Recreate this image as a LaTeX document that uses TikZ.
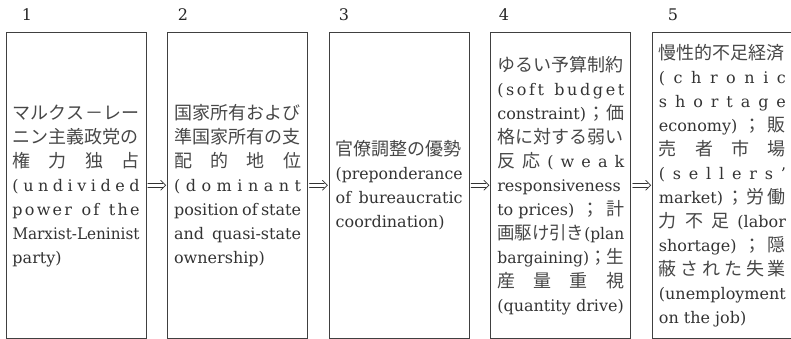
\documentclass[tikz,border=0pt]{standalone}
\usepackage{fontspec}
\usepackage{graphicx}
\setmainfont{DejaVu Serif}
\newfontfamily\cjk{Noto Sans CJK JP}
\newlength\tw \setlength\tw{127pt}
\newlength\lnw
\newsavebox\lnbox
\newcommand\J[1]{{\cjk\fontsize{18pt}{24pt}\selectfont\color{black!72}#1}}
\newcommand\jstrut{\vrule width 0pt height 18pt depth 6pt}
\newcommand\jl[1]{%
  \sbox\lnbox{#1}%
  \setlength\lnw{\wd\lnbox}%
  \ifdim\lnw>\tw
    \pgfmathsetmacro\lnsc{\tw/\lnw}%
    \hbox to\tw{\jstrut\scalebox{\lnsc}[1]{\usebox\lnbox}}%
  \else
    \hbox to\tw{\jstrut#1}%
  \fi}
\newcommand\stk[1]{\vbox{\baselineskip=24pt\lineskip=0pt\lineskiplimit=-100pt #1}}
\tikzset{
  box/.style={draw=black!75, line width=0.8pt, minimum width=140pt,
    minimum height=305.5pt, inner sep=0pt, text=black!80,
    font=\fontsize{16pt}{24pt}\selectfont},
  num/.style={font=\fontsize{16pt}{16pt}\selectfont, text=black!85, inner sep=0pt},
  imp/.style={line width=0.7pt, draw=black!80, line cap=round, line join=miter}
}
\begin{document}
\begin{tikzpicture}[x=1pt,y=-1pt]
\useasboundingbox (0,0) rectangle (791,339);

\node[num] (n1) at (27,15) {1};
\node[num] (n2) at (183,15) {2};
\node[num] (n3) at (344,15) {3};
\node[num] (n4) at (504,15) {4};
\node[num] (n5) at (673,15) {5};

\node[box] (b1) at (76,185.25) {\stk{%
  \jl{\J{マ}\hfill\J{ル}\hfill\J{ク}\hfill\J{ス}\hfill\J{－}\hfill\J{レ}\hfill\J{ー}}
  \jl{\J{ニン主義政党の}}
  \jl{\J{権}\hfill\J{力}\hfill\J{独}\hfill\J{占}}
  \jl{(\hfill u\hfill n\hfill d\hfill i\hfill v\hfill i\hfill d\hfill e\hfill d}
  \jl{p\hfill o\hfill w\hfill e\hfill r\hfill\ \hfill o\hfill f\hfill\ \hfill t\hfill h\hfill e}
  \jl{Marxist-Leninist}
  \jl{party)\hfil}}};

\node[box] (b2) at (237.6,185.25) {\stk{%
  \jl{\J{国家所有および}}
  \jl{\J{準国家所有の支}}
  \jl{\J{配}\hfill\J{的}\hfill\J{地}\hfill\J{位}}
  \jl{(\hfill d\hfill o\hfill m\hfill i\hfill n\hfill a\hfill n\hfill t}
  \jl{position\hfill of\hfill state}
  \jl{and\hfill quasi-state}
  \jl{ownership)\hfil}}};

\node[box] (b3) at (399.2,185.25) {\stk{%
  \jl{\J{官僚調整の優勢}}
  \jl{(preponderance\hfil}
  \jl{of\hfill bureaucratic}
  \jl{coordination)\hfil}}};

\node[box] (b4) at (560.8,185.25) {\stk{%
  \jl{\J{ゆるい予算制約}}
  \jl{(\hfill s\hfill o\hfill f\hfill t\hfill\ \hfill b\hfill u\hfill d\hfill g\hfill e\hfill t}
  \jl{constraint)\hfill\J{；}\hfill\J{価}}
  \jl{\J{格に対する弱い}}
  \jl{\J{反}\hfill\J{応}\hfill(\hfill w\hfill e\hfill a\hfill k}
  \jl{responsiveness\hfil}
  \jl{to prices)\hfill\J{；}\hfill\J{計}}
  \jl{\J{画駆け引き}(plan}
  \jl{bargaining)\J{；生}}
  \jl{\J{産}\hfill\J{量}\hfill\J{重}\hfill\J{視}}
  \jl{(quantity drive)\hfil}}};

\node[box] (b5) at (722.4,185.25) {\stk{%
  \jl{\J{慢性的不足経済}}
  \jl{(\hfill c\hfill h\hfill r\hfill o\hfill n\hfill i\hfill c}
  \jl{s\hfill h\hfill o\hfill r\hfill t\hfill a\hfill g\hfill e}
  \jl{economy)\hfill\J{；}\hfill\J{販}}
  \jl{\J{売}\hfill\J{者}\hfill\J{市}\hfill\J{場}}
  \jl{(\hfill s\hfill e\hfill l\hfill l\hfill e\hfill r\hfill s\hfill '}
  \jl{market)\hfill\J{；}\hfill\J{労}\hfill\J{働}}
  \jl{\J{力}\hfill\J{不}\hfill\J{足}\hfill(labor}
  \jl{shortage)\hfill\J{；}\hfill\J{隠}}
  \jl{\J{蔽}\hfill\J{さ}\hfill\J{れ}\hfill\J{た}\hfill\J{失}\hfill\J{業}}
  \jl{(unemployment\hfil}
  \jl{on the job)\hfil}}};

% double arrows (=>) between consecutive boxes
\foreach \a/\b in {b1/b2, b2/b3, b3/b4, b4/b5}{
  \draw[imp] ([shift={(1.5,-2)}]\a.east) -- ([shift={(-4.5,-2)}]\b.west);
  \draw[imp] ([shift={(1.5,2)}]\a.east) -- ([shift={(-4.5,2)}]\b.west);
  \draw[imp] ([shift={(-6.5,-5)}]\b.west) -- ([shift={(-1.5,0)}]\b.west)
             -- ([shift={(-6.5,5)}]\b.west);
}
\end{tikzpicture}
\end{document}
